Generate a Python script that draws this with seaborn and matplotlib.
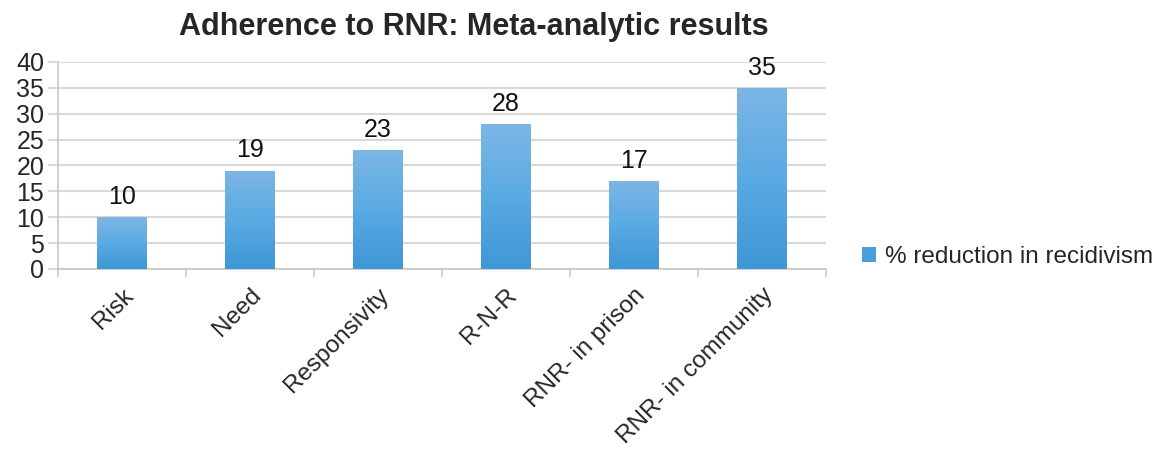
import numpy as np
import pandas as pd
import seaborn as sns
import matplotlib.pyplot as plt
from matplotlib.colors import LinearSegmentedColormap
from matplotlib.patches import Patch

# chart data
categories = ["Risk", "Need", "Responsivity", "R-N-R", "RNR- in prison", "RNR- in community"]
reduction = [10, 19, 23, 28, 17, 35]
series_name = "% reduction in recidivism"

df = pd.DataFrame({"category": categories, "value": reduction})

sns.set_style("white")
plt.rcParams["font.family"] = ["Liberation Sans", "DejaVu Sans"]

fig = plt.figure(figsize=(11.63, 4.57), dpi=100)
ax = fig.add_axes([0.0499, 0.4114, 0.6604, 0.4530])

sns.barplot(data=df, x="category", y="value", color="#4a9fdc", width=0.39,
            saturation=1, ax=ax, zorder=3)

# vertical gradient inside each bar
cmap = LinearSegmentedColormap.from_list("bar", ["#3e97d6", "#5aaae3", "#7db6e5"])
grad = np.linspace(0, 1, 256).reshape(-1, 1)
for p in ax.patches:
    x, w, h = p.get_x(), p.get_width(), p.get_height()
    im = ax.imshow(grad, extent=[x, x + w, 0, h], origin="lower", aspect="auto",
                   cmap=cmap, zorder=3)
    im.set_clip_path(p)
    p.set_facecolor("none")
    p.set_edgecolor("none")

# value labels
for i, v in enumerate(reduction):
    ax.text(i, v + 1.6, str(v), ha="center", va="bottom", fontsize=18, color="#111111")

ax.set_xlim(-0.5, len(categories) - 0.5)
ax.set_ylim(0, 40)
ax.set_yticks(range(0, 41, 5))
ax.yaxis.grid(True, color="#d9d9d9", linewidth=1.5, zorder=0)
ax.set_axisbelow(True)

ax.set_xticks(np.arange(len(categories) + 1) - 0.5, minor=True)
ax.set_xticks(range(len(categories)))
ax.set_xticklabels(categories, rotation=45, ha="right", rotation_mode="anchor", fontsize=17.5)
ax.tick_params(axis="x", which="major", length=0, pad=11)
ax.tick_params(axis="x", which="minor", length=6, width=1.2, color="#c8c8c8", direction="out")
ax.tick_params(axis="y", length=7, width=1.5, color="#d9d9d9", labelsize=18, pad=3)
ax.tick_params(bottom=True, left=True, which="both")

for s in ["top", "right"]:
    ax.spines[s].set_visible(False)
for s in ["left", "bottom"]:
    ax.spines[s].set_color("#c8c8c8")
    ax.spines[s].set_linewidth(1.2)

ax.set_xlabel("")
ax.set_ylabel("")

fig.text(0.407, 0.94, "Adherence to RNR: Meta-analytic results", ha="center", va="center",
         fontsize=22, fontweight="bold")

handle = Patch(facecolor="#4a9fdc", edgecolor="none")
fig.legend([handle], [series_name], loc="center left", bbox_to_anchor=(0.733, 0.438),
           frameon=False, fontsize=17.5, handlelength=0.55, handleheight=0.55,
           handletextpad=0.4, borderaxespad=0)

fig.savefig("out.png", dpi=100)
